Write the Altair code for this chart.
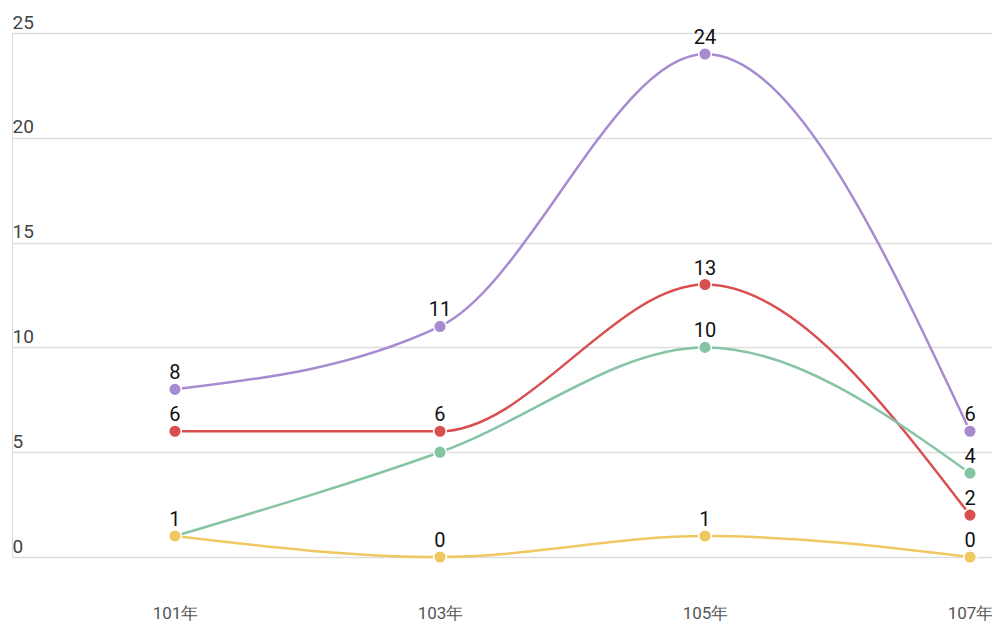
import altair as alt
import pandas as pd

years = [101, 103, 105, 107]
series_names = ["紫", "紅", "綠", "黃"]
purple = [8, 11, 24, 6]
red = [6, 6, 13, 2]
green = [1, 5, 10, 4]
yellow = [1, 0, 1, 0]
show_purple = [True, True, True, True]
show_red = [True, True, True, True]
show_green = [False, False, True, True]
show_yellow = [True, True, True, True]
colors = ["#a68bd1", "#d94f50", "#86c4a3", "#f0c862"]

rows = []
for order, (name, vals, show) in enumerate(zip(
        series_names, [purple, red, green, yellow],
        [show_purple, show_red, show_green, show_yellow])):
    for y, v, s in zip(years, vals, show):
        rows.append({"year": y, "value": v, "series": name, "order": order,
                     "label": str(v) if s else ""})
df = pd.DataFrame(rows)

x = alt.X("year:Q", scale=alt.Scale(domain=[99.77, 107.166], nice=False, zero=False),
          axis=alt.Axis(values=years, labelExpr="datum.value + '年'", title=None,
                        grid=False, domain=False, ticks=False, labelPadding=48,
                        labelFontSize=17, labelColor="#555555", labelFont="Roboto"))
y = alt.Y("value:Q", scale=alt.Scale(domain=[0, 25], nice=False),
          axis=alt.Axis(values=[0, 5, 10, 15, 20, 25], title=None, domain=False,
                        ticks=False, labelAlign="left", labelPadding=0,
                        labelBaseline="alphabetic", labelOffset=-5,
                        labelFontSize=19, labelColor="#444444", labelFont="Roboto",
                        gridColor="#dddddd", gridWidth=1.5))
color = alt.Color("series:N", scale=alt.Scale(domain=series_names, range=colors), legend=None)

base = alt.Chart(df)
lines = base.mark_line(interpolate="monotone", strokeWidth=2.5).encode(
    x=x, y=y, color=color, detail="series:N")
points = base.mark_point(filled=True, size=160, opacity=1, stroke="white",
                         strokeWidth=1.5).encode(
    x=x, y=y, fill=alt.Fill("series:N", scale=alt.Scale(domain=series_names, range=colors), legend=None),
    order="order:Q")
labels = base.mark_text(dy=-16, fontSize=20, color="#111111", font="Roboto").encode(
    x=x, y=y, text="label:N")

chart = alt.layer(lines, points, labels).properties(
    width=980, height=524,
    autosize=alt.AutoSizeParams(type="none"),
    padding={"left": 4, "top": 25, "right": 0, "bottom": 67},
).configure_view(stroke=None).configure(background="white")

chart.save("out.html", embed_options={"renderer": "svg", "actions": False})
